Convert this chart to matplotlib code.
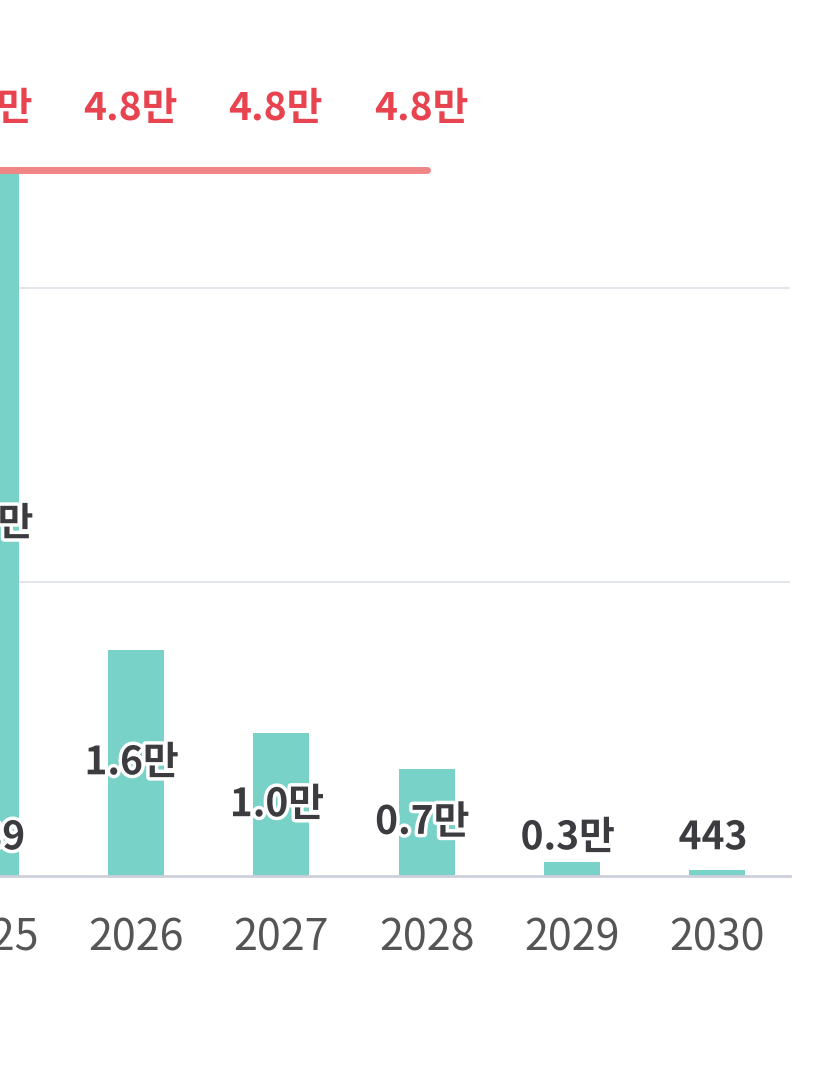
import matplotlib
matplotlib.use('Agg')
import matplotlib.pyplot as plt
import matplotlib.patheffects as pe
import numpy as np

plt.rcParams['font.family'] = ['Noto Sans CJK KR', 'DejaVu Sans']

# Data (values in 만 units)
years = ['2025', '2026', '2027', '2028', '2029', '2030']
values = [4.79, 1.54, 0.97, 0.73, 0.095, 0.044]
bar_labels = ['4.8만', '1.6만', '1.0만', '0.7만', '0.3만', '443']
# second label shown low on the 2025 bar (only its last digit is visible)
extra_label_year = '2025'
extra_label = '389'
# red reference line and its labels
ref_years = ['2024', '2025', '2026', '2027', '2028']
ref_value = 4.8
ref_labels = ['4.8만', '4.8만', '4.8만', '4.8만', '4.8만']

TEAL = '#79d2c8'
RED_TXT = '#e84450'
RED_LINE = '#ef8585'
DARK = '#3c3c40'

fig = plt.figure(figsize=(8.27, 10.82), dpi=100)
W, H = 827, 1082
# axes partly outside the figure so the left side is cut like the reference
ax_l, ax_r = -82, 790
base_y = 876
px_per_unit = 147
ymax = 6
ax = fig.add_axes([ax_l / W, (H - base_y) / H, (ax_r - ax_l) / W,
                   ymax * px_per_unit / H])

x = np.arange(len(years))
ax.bar(x, values, width=0.385, color=TEAL, zorder=2)

ax.set_xlim(-0.5, len(years) - 0.5)
ax.set_ylim(0, ymax)
ax.set_yticks([2, 4])
ax.yaxis.grid(True, color='#e1e3ea', linewidth=1.3, zorder=0)
ax.tick_params(axis='y', left=False, labelleft=False)
ax.tick_params(axis='x', bottom=False, labelsize=31, labelcolor='#555555', pad=26)
ax.set_xticks(x)
ax.set_xticklabels(years)
for s in ['top', 'right', 'left']:
  ax.spines[s].set_visible(False)
ax.spines['bottom'].set_color('#cdd0dc')
ax.spines['bottom'].set_linewidth(2)

halo = [pe.withStroke(linewidth=5, foreground='white')]
min_label_y = 0.26
for xi, v, lab in zip(x, values, bar_labels):
  ax.text(xi - 0.03, max(v / 2, min_label_y), lab, ha='center', va='center',
          fontsize=28, fontweight='bold', color=DARK, path_effects=halo, zorder=4)
ax.text(years.index(extra_label_year), min_label_y, extra_label, ha='center', va='center',
        fontsize=28, fontweight='bold', color=DARK, path_effects=halo, zorder=4)

# red reference line
rx = [int(y) - int(years[0]) for y in ref_years]
ax.plot([rx[0], rx[-1]], [ref_value, ref_value], color=RED_LINE, linewidth=5,
        solid_capstyle='round', zorder=3, clip_on=False)
for xi, lab in zip(rx, ref_labels):
  ax.text(xi - 0.04, ref_value + 0.42, lab, ha='center', va='center',
          fontsize=28, fontweight='bold', color=RED_TXT, zorder=4, clip_on=False)

fig.savefig('out.png', dpi=100)
